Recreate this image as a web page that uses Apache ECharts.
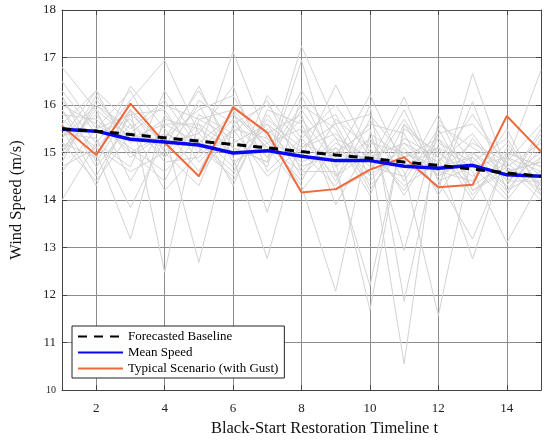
<!DOCTYPE html>
<html>
<head>
<meta charset="utf-8">
<script src="https://cdn.jsdelivr.net/npm/echarts@6/dist/echarts.min.js"></script>
<style>
  html, body { margin: 0; padding: 0; background: #fff; }
  #chart { width: 550px; height: 442px; }
</style>
</head>
<body>
<div id="chart"></div>
<script>
// time steps of the restoration timeline
var timeSteps = [1, 2, 3, 4, 5, 6, 7, 8, 9, 10, 11, 12, 13, 14, 15];
var xTicks = [2, 4, 6, 8, 10, 12, 14];

var baseline = [15.5, 15.45, 15.38, 15.31, 15.24, 15.17, 15.1, 15.02, 14.95, 14.88, 14.8, 14.73, 14.65, 14.57, 14.5];
var meanSpeed = [15.49, 15.45, 15.28, 15.22, 15.16, 14.99, 15.04, 14.92, 14.83, 14.83, 14.71, 14.67, 14.73, 14.53, 14.5];
var typicalGust = [15.56, 14.95, 16.03, 15.21, 14.5, 15.95, 15.42, 14.16, 14.23, 14.64, 14.9, 14.27, 14.32, 15.77, 15.02];

// sampled wind scenarios (grey)
var scenarios = [
  [16.8, 15.9, 15.3, 15.6, 15.2, 15.8, 15.1, 14.6, 15.3, 14.9, 15.2, 14.5, 14.9, 14.2, 14.6],
  [15.3, 16.3, 15.6, 14.9, 15.6, 15.1, 14.8, 17.24, 15.6, 14.3, 15.0, 14.6, 15.2, 14.8, 14.1],
  [14.0, 15.2, 16.1, 16.94, 15.4, 14.7, 15.6, 15.0, 14.3, 15.7, 14.4, 15.5, 14.2, 14.7, 15.2],
  [15.9, 15.0, 13.18, 15.8, 15.0, 17.12, 15.3, 14.8, 15.1, 14.6, 15.9, 14.4, 14.7, 14.9, 14.3],
  [16.2, 14.8, 15.9, 12.48, 15.7, 15.3, 14.7, 16.94, 14.5, 15.0, 14.3, 14.8, 15.4, 14.4, 14.9],
  [15.1, 15.8, 14.9, 15.4, 12.69, 15.6, 16.0, 15.2, 14.9, 16.21, 14.7, 15.1, 14.0, 15.1, 14.5],
  [14.8, 16.1, 15.4, 15.1, 16.4, 14.9, 12.77, 15.4, 15.8, 14.5, 15.1, 14.2, 16.66, 14.6, 14.8],
  [15.6, 14.5, 15.8, 15.9, 14.8, 15.5, 15.3, 14.3, 12.08, 15.4, 14.9, 15.3, 14.6, 13.1, 14.4],
  [15.4, 15.3, 13.84, 15.3, 15.9, 16.2, 15.0, 15.7, 14.8, 11.68, 15.6, 14.9, 14.3, 14.8, 16.73],
  [16.0, 15.6, 15.1, 14.6, 15.3, 14.4, 15.8, 14.9, 16.42, 15.0, 10.55, 15.7, 14.8, 15.3, 14.2],
  [15.2, 14.9, 16.4, 15.5, 14.6, 15.9, 13.74, 16.2, 14.7, 15.3, 14.6, 11.57, 15.0, 14.5, 15.0],
  [14.9, 16.0, 15.5, 16.1, 15.1, 15.2, 15.6, 14.5, 15.2, 14.8, 16.17, 14.4, 13.18, 14.9, 14.6],
  [15.7, 15.1, 14.6, 15.0, 16.0, 14.8, 15.2, 15.5, 14.4, 16.0, 11.87, 15.2, 14.8, 14.3, 15.4],
  [16.3, 15.4, 15.7, 14.8, 14.9, 15.7, 14.9, 16.0, 15.5, 14.2, 15.3, 14.9, 12.76, 15.0, 14.7],
  [15.0, 16.2, 15.2, 15.7, 15.5, 15.0, 15.5, 14.7, 15.0, 15.5, 12.94, 15.6, 15.1, 14.7, 14.0],
  [15.5, 14.3, 15.9, 15.2, 15.4, 16.4, 14.6, 15.3, 16.0, 14.9, 14.8, 14.3, 16.07, 14.2, 15.1],
  [15.8, 15.7, 15.0, 14.4, 15.8, 15.4, 16.1, 14.6, 14.6, 12.2, 15.5, 15.0, 14.5, 15.2, 14.3],
  [14.6, 15.5, 16.3, 15.0, 14.3, 16.0, 15.4, 15.8, 13.9, 15.2, 15.0, 14.7, 14.9, 14.1, 15.3],
  [16.1, 15.2, 14.7, 16.3, 15.2, 14.6, 15.7, 15.1, 15.4, 14.7, 14.5, 15.8, 14.2, 14.6, 14.8],
  [15.3, 16.0, 15.3, 15.3, 16.3, 15.1, 14.8, 15.9, 14.9, 15.6, 15.4, 14.1, 15.3, 14.4, 14.4],
  [15.9, 14.7, 15.6, 14.2, 15.0, 15.8, 15.2, 14.4, 15.7, 15.1, 14.2, 15.4, 15.6, 14.8, 15.6],
  [15.0, 15.9, 14.4, 15.6, 15.6, 14.3, 15.9, 15.6, 14.2, 14.6, 15.7, 14.6, 14.4, 15.5, 14.1],
  [16.5, 15.5, 15.8, 15.2, 14.5, 15.5, 14.5, 15.1, 15.6, 15.8, 14.9, 15.1, 14.7, 14.0, 14.9],
  [15.2, 14.4, 15.4, 16.0, 15.7, 15.9, 15.1, 14.2, 15.1, 14.4, 15.2, 14.8, 15.8, 14.7, 14.2],
  [15.6, 16.3, 15.0, 15.4, 15.1, 14.5, 16.2, 15.3, 14.5, 15.3, 14.1, 15.3, 14.1, 15.0, 14.7],
  [14.7, 15.1, 15.9, 14.9, 16.1, 15.6, 14.9, 16.3, 15.3, 14.1, 15.6, 14.5, 15.0, 14.3, 15.5]
];

var serif = '"Liberation Serif", "Times New Roman", serif';
var frameColor = '#444';
var gridColor = '#8c8c8c';

function pairs(values) {
  return values.map(function(v, i) { return [timeSteps[i], v]; });
}

var series = [];
scenarios.forEach(function(s, i) {
  series.push({
    name: 'scenario' + i, type: 'line', data: pairs(s),
    symbol: 'none', silent: true, z: 2,
    lineStyle: {color: '#d3d3d3', width: 1}
  });
});
series.push({
  name: 'Typical Scenario (with Gust)', type: 'line', data: pairs(typicalGust),
  symbol: 'none', z: 3,
  lineStyle: {color: '#ee6a3c', width: 2}, itemStyle: {color: '#ee6a3c'}
});
series.push({
  name: 'Mean Speed', type: 'line', data: pairs(meanSpeed),
  symbol: 'none', z: 4,
  lineStyle: {color: '#0808f0', width: 3.5}, itemStyle: {color: '#0808f0'}
});
series.push({
  name: 'Forecasted Baseline', type: 'line', data: pairs(baseline),
  symbol: 'none', z: 5,
  lineStyle: {color: '#000', width: 3, type: [9, 7]}, itemStyle: {color: '#000'}
});

var chart = echarts.init(document.getElementById('chart'));
chart.setOption({
  animation: false,
  backgroundColor: '#fff',
  grid: {left: 60, right: 9, top: 10, bottom: 51},
  legend: {
    left: 72, top: 326,
    orient: 'vertical',
    data: ['Forecasted Baseline', 'Mean Speed', 'Typical Scenario (with Gust)'],
    itemWidth: 45, itemHeight: 10, itemGap: 3,
    itemStyle: {opacity: 0},
    padding: [4, 6, 3, 5],
    borderColor: '#222', borderWidth: 1, backgroundColor: '#fff',
    textStyle: {fontFamily: serif, fontSize: 13, color: '#000'}
  },
  xAxis: [{
    type: 'value', min: 1, max: 15,
    name: 'Black-Start Restoration Timeline t', nameLocation: 'middle', nameGap: 29,
    nameTextStyle: {fontFamily: serif, fontSize: 16.5, color: '#111', padding: [0, 0, 0, 46]},
    axisLine: {lineStyle: {color: frameColor}},
    axisTick: {inside: true, length: 5, customValues: xTicks, lineStyle: {color: frameColor}},
    axisLabel: {customValues: xTicks, fontFamily: serif, fontSize: 13, color: '#222', margin: 12},
    splitLine: {show: true, lineStyle: {color: gridColor, width: 1}}
  }, {
    type: 'value', min: 1, max: 15, position: 'top',
    axisLine: {show: true, lineStyle: {color: frameColor}},
    axisTick: {inside: true, length: 5, customValues: xTicks, lineStyle: {color: frameColor}},
    axisLabel: {show: false},
    splitLine: {show: false}
  }],
  yAxis: [{
    type: 'value', min: 10, max: 18, interval: 1,
    name: 'Wind Speed (m/s)', nameLocation: 'middle', nameGap: 37,
    nameTextStyle: {fontFamily: serif, fontSize: 16.5, color: '#111'},
    axisLine: {show: true, lineStyle: {color: frameColor}},
    axisTick: {show: true, inside: true, length: 5, lineStyle: {color: frameColor}},
    axisLabel: {
      fontFamily: serif, fontSize: 13, color: '#222', margin: 6,
      formatter: function(v) { return v === 10 ? '{s|10}' : String(v); },
      rich: {s: {fontFamily: serif, fontSize: 10, color: '#222'}}
    },
    splitLine: {show: true, lineStyle: {color: gridColor, width: 1}}
  }, {
    type: 'value', min: 10, max: 18, interval: 1, position: 'right',
    axisLine: {show: true, lineStyle: {color: frameColor}},
    axisTick: {show: true, inside: true, length: 5, lineStyle: {color: frameColor}},
    axisLabel: {show: false},
    splitLine: {show: false}
  }],
  series: series
});
</script>
</body>
</html>
